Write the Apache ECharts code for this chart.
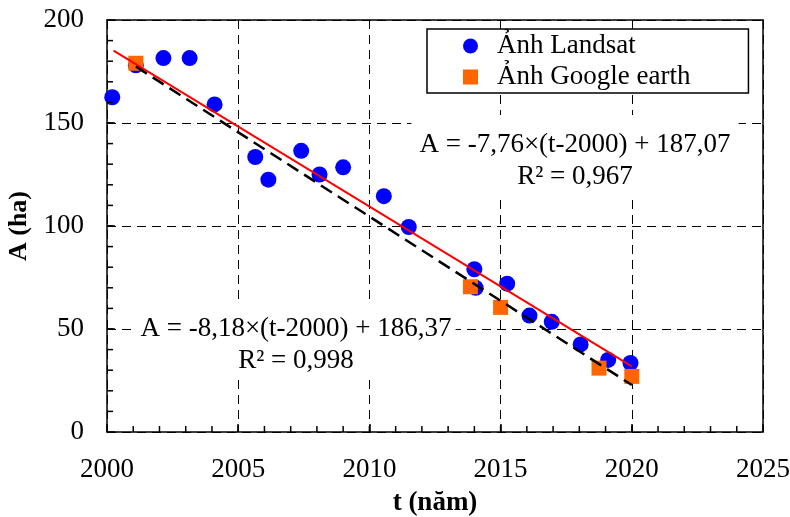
<!DOCTYPE html>
<html><head><meta charset="utf-8">
<script src="https://cdn.jsdelivr.net/npm/echarts@6/dist/echarts.min.js"></script>
<style>html,body{margin:0;padding:0;background:#fff}#c{width:790px;height:517px}</style>
</head><body><div id="c"></div>
<script>
const landsatT = [2000.2, 2001.1, 2002.15, 2003.15, 2004.1, 2005.65, 2006.15, 2007.4, 2008.1, 2009.0, 2010.55, 2011.5, 2014.0, 2014.05, 2015.25, 2016.1, 2016.95, 2018.05, 2019.1, 2019.95];
const landsatA = [162.5, 178, 181.5, 181.5, 159, 133.5, 122.5, 136.5, 125, 128.5, 114.5, 99.5, 79, 70, 72, 56.5, 53.5, 42.5, 35, 33.5];
const googleT = [2001.1, 2013.85, 2015.0, 2018.75, 2020.0];
const googleA = [179, 70.5, 60.5, 31, 27];
const fitLandsatT = [2000.25, 2020.0];
const fitLandsatA = [185.1, 31.9];
const fitGoogleT = [2001.1, 2020.0];
const fitGoogleA = [177.4, 22.8];
const xTicks = [2000, 2005, 2010, 2015, 2020, 2025];
const yTicks = [0, 50, 100, 150, 200];
const legendNames = ['Ảnh Landsat', 'Ảnh Google earth'];
const eqLandsat = 'A = -7,76×(t-2000) + 187,07\nR² = 0,967';
const eqGoogle = 'A = -8,18×(t-2000) + 186,37\nR² = 0,998';

const zip = (a, b) => a.map((v, i) => [v, b[i]]);
const chart = echarts.init(document.getElementById('c'), null, {renderer: 'canvas'});
const serif = 'Liberation Serif';
const xMin = xTicks[0], xMax = xTicks[xTicks.length - 1];
const yMin = yTicks[0], yMax = yTicks[yTicks.length - 1];

// minor tick positions (axis decoration): every year on x, every 10 ha on y
const xMinorTicks = [];
for (let v = xMin + 1; v < xMax; v += 1) xMinorTicks.push([v, yMin]);
const yMinorTicks = [];
for (let v = yMin + 10; v < yMax; v += 10) yMinorTicks.push([xMin, v]);

function mainAxis(isX) {
  return {
    type: 'value', min: isX ? xMin : yMin, max: isX ? xMax : yMax, interval: isX ? 5 : 50,
    position: isX ? 'bottom' : 'left',
    axisLine: {show: true, onZero: false, lineStyle: {color: '#000', width: 1.5}},
    axisTick: {show: true, inside: true, length: 8, lineStyle: {color: '#000', width: 1.5}},
    minorTick: {show: false},
    splitLine: {show: true, lineStyle: {type: [9, 6], color: '#000', width: 1}},
    axisLabel: {show: true, margin: isX ? 24 : 23, fontFamily: serif, fontSize: 27, color: '#000', formatter: v => String(v)},
    name: isX ? 't (năm)' : 'A (ha)', nameLocation: 'middle', nameGap: isX ? 58 : 70, nameRotate: isX ? 0 : 90,
    nameTextStyle: {fontFamily: serif, fontWeight: 'bold', fontSize: isX ? 27 : 26, color: '#000'}
  };
}
function borderAxis(isX) {
  return {
    type: 'value', min: isX ? xMin : yMin, max: isX ? xMax : yMax, interval: isX ? 5 : 50,
    position: isX ? 'top' : 'right',
    axisLine: {show: true, onZero: false, lineStyle: {color: '#000', width: 1.5}},
    axisTick: {show: false}, minorTick: {show: false}, splitLine: {show: false}, axisLabel: {show: false}
  };
}
chart.setOption({
  animation: false,
  backgroundColor: '#fff',
  grid: {left: 107, right: 27, top: 20, bottom: 85, containLabel: false, outerBoundsMode: 'none'},
  xAxis: [mainAxis(true), borderAxis(true)],
  yAxis: [mainAxis(false), borderAxis(false)],
  legend: {
    left: 427, top: 29, orient: 'vertical',
    backgroundColor: '#fff', borderColor: '#000', borderWidth: 1.5, borderRadius: 0,
    padding: [3, 58, 2, 36], itemGap: 3, itemWidth: 15, itemHeight: 15,
    textStyle: {fontFamily: serif, fontSize: 27, color: '#000', lineHeight: 28, padding: [0, 0, 0, 14]},
    data: [{name: legendNames[0], icon: 'circle'}, {name: legendNames[1], icon: 'rect'}]
  },
  graphic: [
    {type: 'text', id: 'eq1', x: 575, y: 115, z: 1, silent: true,
     style: {text: eqLandsat, fill: '#000', font: '27px "Liberation Serif"', textAlign: 'center', lineHeight: 32,
             backgroundColor: '#fff', padding: [14, 8, 4, 8]}},
    {type: 'text', id: 'eq2', x: 296, y: 305, z: 1, silent: true,
     style: {text: eqGoogle, fill: '#000', font: '27px "Liberation Serif"', textAlign: 'center', lineHeight: 32,
             backgroundColor: '#fff', padding: [8, 4, 0, 4]}}
  ],
  series: [
    {name: legendNames[0], type: 'scatter', symbol: 'circle', symbolSize: 16, z: 3,
     itemStyle: {color: '#0000ff', opacity: 1}, data: zip(landsatT, landsatA)},
    {name: legendNames[1], type: 'scatter', symbol: 'rect', symbolSize: 15, z: 4,
     itemStyle: {color: '#ff6600', opacity: 1}, data: zip(googleT, googleA)},
    {name: 'fitL', type: 'line', showSymbol: false, symbol: 'none', z: 5,
     lineStyle: {color: '#ff0000', width: 2}, data: zip(fitLandsatT, fitLandsatA)},
    {name: 'fitG', type: 'line', showSymbol: false, symbol: 'none', z: 5,
     lineStyle: {color: '#000', width: 2.5, type: [13, 7]}, data: zip(fitGoogleT, fitGoogleA)},
    {name: 'xMinor', type: 'scatter', symbol: 'rect', symbolSize: [1.5, 6], symbolOffset: [0, -3],
     clip: false, silent: true, z: 6, itemStyle: {color: '#000', opacity: 1}, data: xMinorTicks},
    {name: 'yMinor', type: 'scatter', symbol: 'rect', symbolSize: [6, 1.5], symbolOffset: [3, 0],
     clip: false, silent: true, z: 6, itemStyle: {color: '#000', opacity: 1}, data: yMinorTicks}
  ]
});
</script></body></html>
